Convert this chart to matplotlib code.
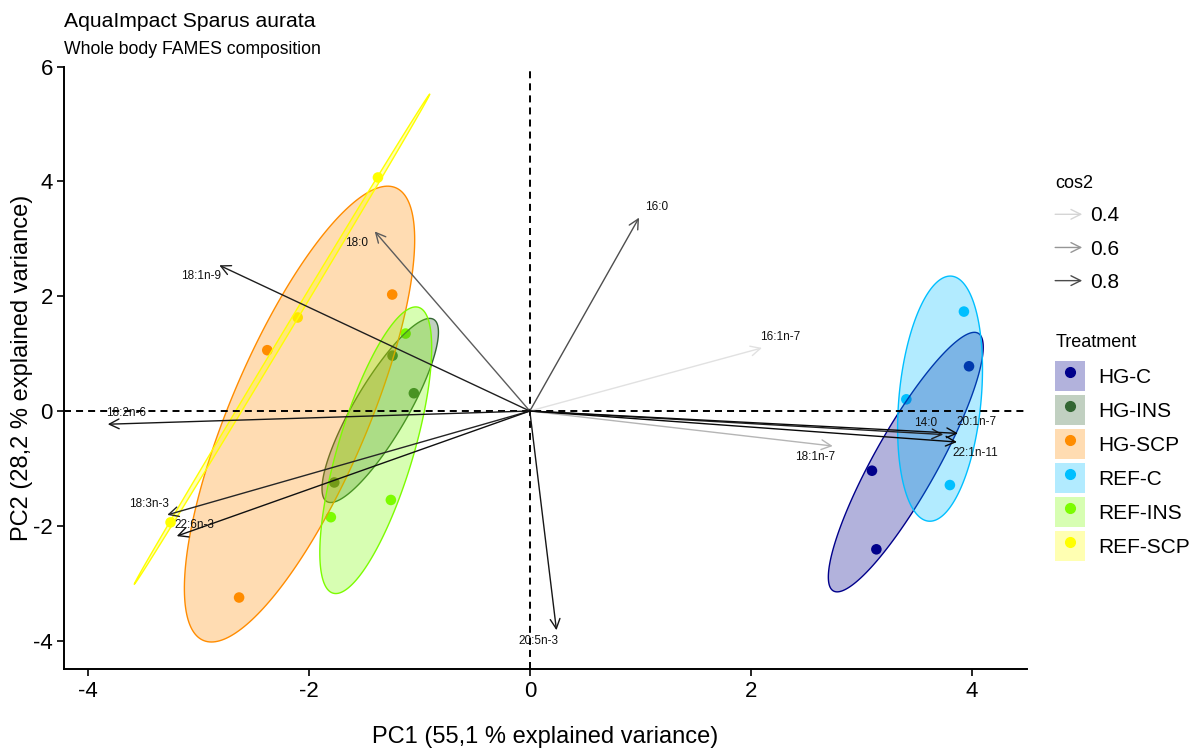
import numpy as np
import matplotlib
matplotlib.use("Agg")
import matplotlib.pyplot as plt
from matplotlib.patches import Polygon, Patch, FancyArrowPatch
from matplotlib.lines import Line2D
from matplotlib.legend_handler import HandlerBase, HandlerTuple
from matplotlib.colors import LinearSegmentedColormap, Normalize, to_rgba

plt.rcParams['font.family'] = ['Liberation Sans', 'DejaVu Sans']
plt.rcParams['axes.unicode_minus'] = False

# ---------------- data ----------------
title = "AquaImpact Sparus aurata"
subtitle = "Whole body FAMES composition"
xlabel = "PC1 (55,1 % explained variance)"
ylabel = "PC2 (28,2 % explained variance)"

groups = ["HG-C", "HG-INS", "HG-SCP", "REF-C", "REF-INS", "REF-SCP"]
group_colors = ["#00008B", "#336633", "#FF8C00", "#00BFFF", "#7CFC00", "#FFFF00"]

# individual scores (PC1, PC2) per treatment
hgc_pc1 = [3.973, 3.095, 3.135]
hgc_pc2 = [0.78, -1.04, -2.41]
hgins_pc1 = [-1.242, -1.049, -1.769]
hgins_pc2 = [0.965, 0.31, -1.245]
hgscp_pc1 = [-1.245, -2.375, -2.63]
hgscp_pc2 = [2.03, 1.06, -3.25]
refc_pc1 = [3.927, 3.406, 3.80]
refc_pc2 = [1.733, 0.204, -1.29]
refins_pc1 = [-1.124, -1.80, -1.257]
refins_pc2 = [1.35, -1.85, -1.55]
refscp_pc1 = [-1.374, -2.10, -3.25]
refscp_pc2 = [4.07, 1.63, -1.94]

scores_pc1 = [hgc_pc1, hgins_pc1, hgscp_pc1, refc_pc1, refins_pc1, refscp_pc1]
scores_pc2 = [hgc_pc2, hgins_pc2, hgscp_pc2, refc_pc2, refins_pc2, refscp_pc2]

# variables (fatty acids) - scaled loadings and cos2
variables = ["14:0", "16:0", "16:1n-7", "18:0", "18:1n-7", "18:1n-9",
             "18:2n-6", "18:3n-3", "20:1n-7", "20:5n-3", "22:1n-11", "22:6n-3"]
var_pc1 = [3.74, 0.988, 2.10, -1.403, 2.74, -2.809, -3.818, -3.280, 3.873, 0.241, 3.864, -3.194]
var_pc2 = [-0.41, 3.37, 1.10, 3.13, -0.61, 2.54, -0.23, -1.81, -0.39, -3.82, -0.54, -2.18]
var_cos2 = [0.91, 0.79, 0.36, 0.755, 0.505, 0.92, 0.94, 0.90, 0.97, 0.94, 0.975, 0.955]

cos2_legend_values = [0.4, 0.6, 0.8]

# label placement directions (ggrepel-like offsets)
label_dirs = {"14:0": (-1, 1), "16:0": (1, 1), "16:1n-7": (1, 1), "18:0": (-1, -1),
              "18:1n-7": (-1, -1), "18:1n-9": (-1, -1), "18:2n-6": (1, 1),
              "18:3n-3": (-1, 1), "20:1n-7": (1, 1), "20:5n-3": (-1, -1),
              "22:1n-11": (1, -1), "22:6n-3": (1, 1)}

# ---------------- helpers ----------------
def conf_ellipse(x, y, level=0.95, npts=240):
    pts = np.column_stack([x, y])
    mu = pts.mean(axis=0)
    cov = np.cov(pts.T) / len(pts)
    t = np.sqrt(-2.0 * np.log(1.0 - level))
    vals, vecs = np.linalg.eigh(cov)
    vals = np.clip(vals, 0, None)
    th = np.linspace(0, 2 * np.pi, npts)
    circ = np.column_stack([np.cos(th), np.sin(th)])
    return mu + t * circ @ (vecs * np.sqrt(vals)).T

cmap = LinearSegmentedColormap.from_list(
    "cos2", [(0.0, "#F2F2F2"), (1 / 7, "#D5D5D5"), (3 / 7, "#969696"),
             (5 / 7, "#4B4B4B"), (1.0, "#000000")])
norm = Normalize(vmin=0.3, vmax=1.0)

class HandlerArrow(HandlerBase):
    def create_artists(self, legend, orig_handle, xdescent, ydescent, width,
                       height, fontsize, trans):
        y = height / 2 - ydescent
        p = FancyArrowPatch((-xdescent, y), (-xdescent + width, y),
                            arrowstyle="->,head_length=0.7,head_width=0.35",
                            mutation_scale=10, color=orig_handle.get_color(),
                            lw=1.0, shrinkA=0, shrinkB=0, transform=trans)
        return [p]

# ---------------- figure ----------------
W, H = 1195, 748
fig = plt.figure(figsize=(W / 100, H / 100), dpi=100)

ellipses = [conf_ellipse(x, y) for x, y in zip(scores_pc1, scores_pc2)]

# limits: data extent + 5% expansion (ggplot style)
allx = np.concatenate([e[:, 0] for e in ellipses] + [np.array(var_pc1), [0]])
ally = np.concatenate([e[:, 1] for e in ellipses] + [np.array(var_pc2), [0]])
xr = allx.max() - allx.min()
yr = ally.max() - ally.min()
xlim = (allx.min() - 0.05 * xr, allx.max() + 0.05 * xr)
ylim = (ally.min() - 0.05 * yr, ally.max() + 0.05 * yr)

ax = fig.add_axes([64 / W, 1 - 669.4 / H, (1027 - 64) / W, (669.4 - 66.6) / H])
ax.set_xlim(xlim)
ax.set_ylim(ylim)

# points
for px, py, c in zip(scores_pc1, scores_pc2, group_colors):
    ax.scatter(px, py, s=58, color=c, edgecolors="none", zorder=2)

# ellipses
for e, c in zip(ellipses, group_colors):
    ax.add_patch(Polygon(e, closed=True, facecolor=to_rgba(c, 0.3),
                         edgecolor=c, lw=1.0, zorder=3))

# reference lines
ax.axhline(0, color="black", lw=1.4, ls=(0, (3.6, 2.6)), zorder=4)
ax.axvline(0, color="black", lw=1.4, ls=(0, (3.6, 2.6)), zorder=4)

# variable arrows
for name, vx, vy, c2 in zip(variables, var_pc1, var_pc2, var_cos2):
    col = cmap(norm(c2))
    ax.annotate("", xy=(vx, vy), xytext=(0, 0),
                arrowprops=dict(arrowstyle="->,head_length=0.7,head_width=0.35",
                                color=col, lw=1.0, shrinkA=0, shrinkB=0,
                                mutation_scale=10), zorder=5)
    sx, sy = label_dirs[name]
    ax.annotate(name, xy=(vx, vy), xytext=(sx * 13, sy * 8),
                textcoords="offset points", ha="center", va="center",
                fontsize=8.5, color="#111111", zorder=6)

# axes styling
for s in ["top", "right"]:
    ax.spines[s].set_visible(False)
for s in ["left", "bottom"]:
    ax.spines[s].set_linewidth(1.4)
ax.set_xticks([-4, -2, 0, 2, 4])
ax.set_yticks([-4, -2, 0, 2, 4, 6])
ax.tick_params(labelsize=16, length=5, width=1.2, colors="black", pad=3)
ax.set_xlabel(xlabel, fontsize=17, va="center")
ax.set_ylabel(ylabel, fontsize=17, va="center")
ax.xaxis.set_label_coords(0.5, (669.4 - 737) / 602.8)
ax.yaxis.set_label_coords((22 - 64) / 963, 0.5)

fig.text(64 / W, 1 - 27 / H, title, fontsize=15.2, va="baseline", ha="left")
fig.text(64 / W, 1 - 54 / H, subtitle, fontsize=12.7, va="baseline", ha="left")

# cos2 legend
cos_handles = [Line2D([], [], color=cmap(norm(v))) for v in cos2_legend_values]
leg1 = fig.legend(cos_handles, [str(v) for v in cos2_legend_values],
                  title="cos2", loc="upper left",
                  bbox_to_anchor=(1051 / W, 1 - 171 / H), borderaxespad=0,
                  frameon=False, fontsize=15, title_fontsize=13,
                  handler_map={Line2D: HandlerArrow()},
                  handlelength=1.3, handleheight=1.2, labelspacing=0.55,
                  handletextpad=0.4, borderpad=0.2, alignment="left")

# treatment legend
tr_handles = [(Patch(facecolor=to_rgba(c, 0.3), edgecolor="none"),
               Line2D([], [], marker="o", ls="", color=c, markersize=7))
              for c in group_colors]
leg2 = fig.legend(tr_handles, groups, title="Treatment", loc="upper left",
                  bbox_to_anchor=(1051 / W, 1 - 330 / H), borderaxespad=0,
                  frameon=False, fontsize=15, title_fontsize=13,
                  handler_map={tuple: HandlerTuple(ndivide=1)},
                  handlelength=1.44, handleheight=1.838, labelspacing=0.19,
                  handletextpad=0.62, borderpad=0.2, alignment="left")
leg2._legend_box.sep = 7.2

fig.savefig("out.png", dpi=100)
